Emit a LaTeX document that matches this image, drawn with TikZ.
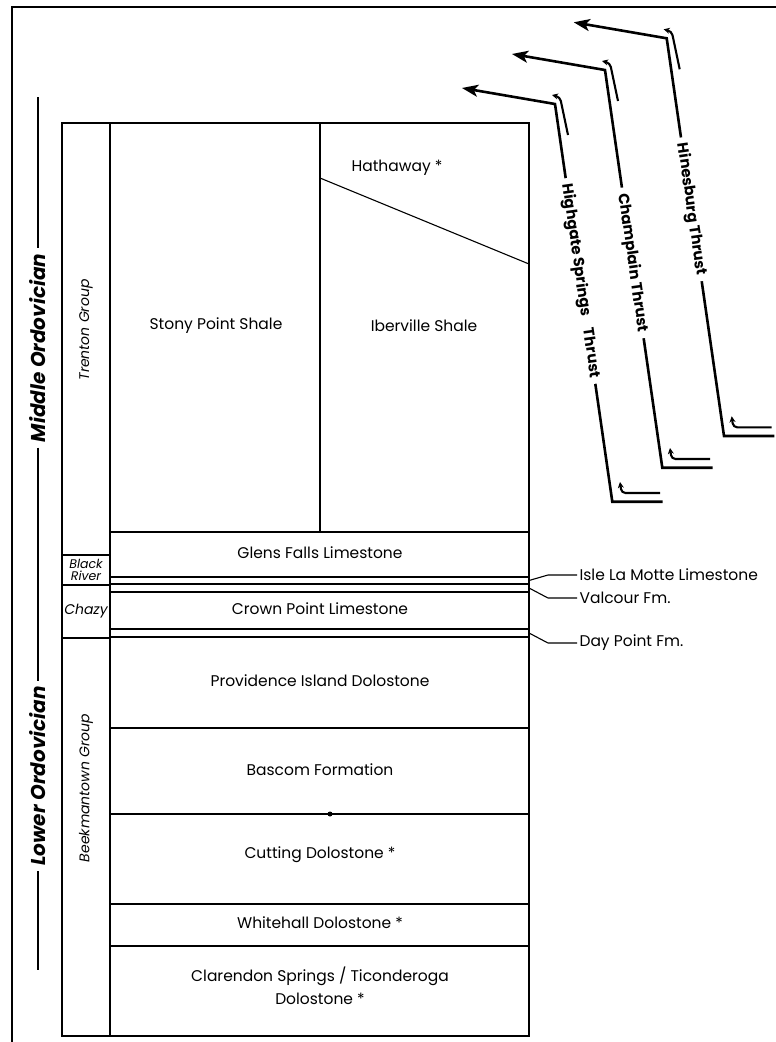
\documentclass[tikz,border=0pt]{standalone}
\usepackage{fontspec}
\setmainfont{Poppins}
\usetikzlibrary{arrows.meta}

\tikzset{
  bed/.style={font=\fontsize{15.5}{23}\selectfont, align=center},
  grp/.style={font=\itshape\fontsize{14}{14}\selectfont, align=center},
  era/.style={font=\bfseries\itshape\fontsize{20}{22}\selectfont, rotate=90, inner xsep=5pt, inner ysep=0pt},
  side/.style={font=\fontsize{15.5}{17}\selectfont, anchor=west, inner sep=2pt},
  fault/.style={line width=2.6pt, {Stealth[length=16pt,width=12pt,inset=4pt]}-},
  flabel/.style={font=\bfseries\fontsize{15}{17}\selectfont, sloped, fill=white, inner xsep=6pt, inner ysep=1pt},
  sense/.style={line width=2.1pt, rounded corners=4pt, -{Stealth[length=6pt,width=6pt]}},
  eraline/.style={line width=2.6pt},
  dot/.style={circle, fill, inner sep=0pt, minimum size=5pt},
}

\begin{document}
\begin{tikzpicture}[x=1pt, y=-1pt, line width=1.1pt]
	\useasboundingbox (0,0) rectangle (776,1042);
	\draw[line width=2.6pt] (12,1042) -- (12,7) -- (776,7);
	
	% column
	\draw[line width=1.3pt] (62,123) rectangle (529,1036);
	\draw[line width=1.3pt] (110,123) -- (110,1036);
	\foreach \y in {555,585,638}
		\draw (62,\y) -- (110,\y);
	\foreach \y in {532,577,584,592,629,637,728,814,904,946}
		\draw (110,\y) -- (529,\y);
	\draw (320,123) -- (320,532);
	\draw (320,178) -- (529,264);
	\node[dot] (bdot) at (330,814) {};
	
	% groups
	\node[grp, rotate=90] (tg) at (86,330) {Trenton Group};
	\node[grp, font=\itshape\fontsize{12.5}{12.5}\selectfont] (br) at (86,570) {Black\\River};
	\node[grp] (cz) at (86,611) {Chazy};
	\node[grp, rotate=90] (bg) at (86,788) {Beekmantown Group};
	
	% formations
	\node[bed] (sps) at (216,326) {Stony Point Shale};
	\node[bed] (ibs) at (424,326) {Iberville Shale};
	\node[bed] (hth) at (397,168) {Hathaway *};
	\node[bed] (gfl) at (320,553) {Glens Falls Limestone};
	\node[bed] (cpl) at (320,609) {Crown Point Limestone};
	\node[bed] (pid) at (320,681) {Providence Island Dolostone};
	\node[bed] (bsf) at (320,770) {Bascom Formation};
	\node[bed] (ctd) at (320,855) {Cutting Dolostone *};
	\node[bed] (whd) at (320,923) {Whitehall Dolostone *};
	\node[bed] (csd) at (320,986) {Clarendon Springs / Ticonderoga\\Dolostone *};
	
	% thin beds on the right
	\node[side] (ilm) at (577,575) {Isle La Motte Limestone};
	\node[side] (vcf) at (577,598) {Valcour Fm.};
	\node[side] (dpf) at (577,643) {Day Point Fm.};
	\coordinate (ilm-a) at (529,580.5);
	\coordinate (ilm-b) at (548,575);
	\coordinate (vcf-a) at (529,588);
	\coordinate (vcf-b) at (548,598);
	\coordinate (dpf-a) at (529,633);
	\coordinate (dpf-b) at (548,643);
	\draw (ilm-a) -- (ilm-b) -- (ilm.west);
	\draw (vcf-a) -- (vcf-b) -- (vcf.west);
	\draw (dpf-a) -- (dpf-b) -- (dpf.west);
	
	% ages
	\coordinate (eratop) at (38,97);
	\coordinate (erabot) at (38,970);
	\node[era] (mo) at (38,348) {Middle Ordovician};
	\node[era] (lo) at (38,776) {Lower Ordovician};
	\draw[eraline] (eratop) -- (mo.east);
	\draw[eraline] (mo.west) -- (lo.east);
	\draw[eraline] (lo.west) -- (erabot);
	
	% thrusts
	\foreach \bx/\by/\nm/\txt/\p in {555/104/hst/Highgate Springs\hspace{0.6em} Thrust/0.445,
		605/70/cht/Champlain Thrust/0.485, 666.7/38.3/hbt/Hinesburg Thrust/0.43} {
		\begin{scope}[shift={(\bx,\by)}]
			\coordinate (\nm-tip) at (-93,-16);
			\coordinate (\nm-bend) at (0,0);
			\coordinate (\nm-foot) at (57.3,397.7);
			\coordinate (\nm-end) at (107.7,397.7);
			\draw[fault] (\nm-tip) -- (\nm-bend)
				-- node[flabel, pos=\p] (\nm-lbl) {\txt} (\nm-foot) -- (\nm-end);
			\draw[sense] (13,31) -- (5,-7) -- (-3,-9);
			\draw[sense] (105,389) -- (66.5,389) -- (65,378);
		\end{scope}
	}
\end{tikzpicture}
\end{document}
